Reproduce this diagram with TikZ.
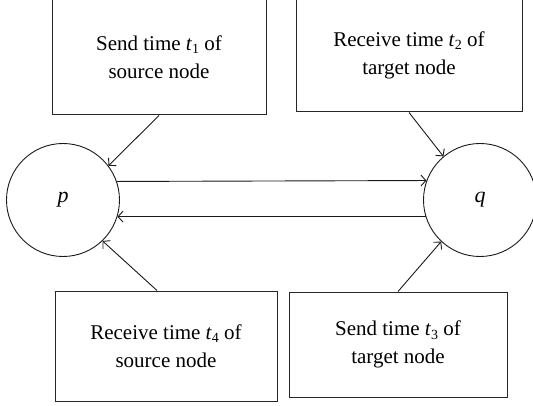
\documentclass[tikz,border=0pt]{standalone}
\usepackage{fontspec}
\setmainfont{Liberation Serif}
\usetikzlibrary{arrows.meta}
\newcommand\tvar[1]{\textit{t}\raisebox{-0.35ex}{\fontsize{14}{14}\selectfont #1}}
\tikzset{
  infobox/.style={draw=black!85, line width=1pt, align=center, inner sep=0pt,
    font=\fontsize{21}{28}\selectfont},
  station/.style={circle, draw=black!90, line width=0.9pt, minimum size=113pt, inner sep=0pt,
    font=\fontsize{22}{22}\selectfont\itshape},
  arr/.style={draw=black!90, line width=0.9pt, -{Straight Barb[length=5pt,width=11pt]}}
}
\begin{document}
\begin{tikzpicture}[x=1pt, y=-1pt]
\useasboundingbox (0,0) rectangle (533,406);
% boxes
\node[infobox, minimum width=214pt, minimum height=116pt] (tl) at (159,57) {Send time \tvar{1} of\\source node};
\node[infobox, minimum width=226pt, minimum height=113pt] (tr) at (409,55.5) {Receive time \tvar{2} of\\target node};
\node[infobox, minimum width=222pt, minimum height=110pt] (bl) at (166,346) {Receive time \tvar{4} of\\source node};
\node[infobox, minimum width=218pt, minimum height=105pt] (br) at (398,344.5) {Send time \tvar{3} of\\target node};
% stations
\node[station] (p) at (63,200) {p};
\node[station] (q) at (480,200) {q};
% horizontal connectors
\draw[arr] (p.19.6) -- (q.160.4);
\draw[arr] (q.197.5) -- (p.-17.5);
% diagonal connectors
\coordinate (blstart) at ([xshift=-9pt]bl.north);
\draw[arr] (tl.south) -- (p.37);
\draw[arr] (tr.south) -- (q.130.7);
\draw[arr] (blstart) -- (p.-46);
\draw[arr] (br.north) -- (q.227);
\end{tikzpicture}
\end{document}
